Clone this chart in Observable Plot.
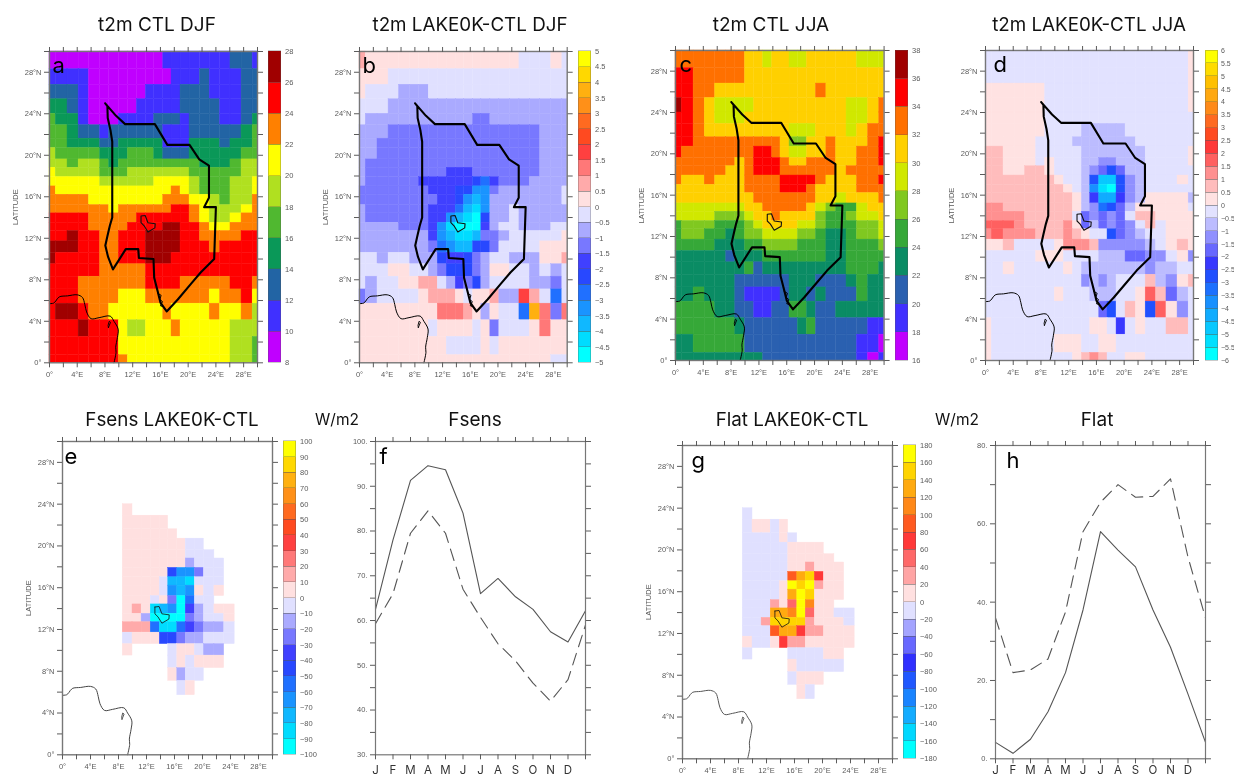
<!DOCTYPE html>
<html>
<head>
<meta charset="utf-8">
<script src="https://cdn.jsdelivr.net/npm/d3@7"></script>
<script src="https://cdn.jsdelivr.net/npm/@observablehq/plot@0.6"></script>
<style>
html,body{margin:0;padding:0;background:#fff;overflow:hidden}
#page{position:relative;width:1234px;height:780px;overflow:hidden;font-family:"Inter",sans-serif}
#page svg{filter:blur(.35px)}
.ttl{position:absolute;transform:translate(-50%,-50%);white-space:nowrap;color:#111;filter:blur(.25px)}
</style>
</head>
<body>
<div id="page"></div>
<script>
// Stretched model grid
const lonEdges = [0,.9,2.6,4.2,5.7,7.3,8.6,10,11.3,12.6,13.9,15.1,16.4,17.6,18.9,20.2,21.7,23.1,24.6,26.1,27.7,29.3,30];
const latEdges = [0,.74,2.5,4.1,5.7,7.07,8.3,9.5,10.6,11.7,12.7,13.5,14.4,15.2,16.2,17,17.9,18.8,19.6,20.7,21.6,22.9,24,25.4,26.8,28.3,30];

// Class index of each cell, north to south, west to east (base 36, "." = no data)
const t2mCtlDjf = [
"000000000000 1111111 22 1","1111 000000000 111 2 111 22","222 1 000000 1111 222 111 22","33 2 1 00000 11111 2222 11 22",
"4 33 1 000 1111 222 1 222 11 2 3","44 3 22 1 222222 111 22222 3 4","44 333 22 33333 111 333 2 33 4","5 4444 333 444 3 222 3333 3 44",
"55 4 55 4 3 444444444 333 4 55","6 5555 444 5555555 4 444 4 55","66666 555555 6666 5 444 55 6","7 666666666666 7 6 5 444 55 6",
"7777 66666666 777 6 6 5 4 55 7","777777 6 777777 88 7 6 55 5 6 7","8888 77777 888888 7 6 55 6 77","8888 7777 8888 99 88 7 66 77 7",
"88 9 88 77 888 9999 88 7777 88","999 88 77 888 9999 888 7 8888","9 8888 77 888 999 888888888","88888 77777 888888888888",
"888 7777777 8888 77777 88 7","888 7777 666 7777777 6 77 8 6","8 99 8 77 666666 7 6 666 7 66 7 5","888 9 888 6 55 666 7 66666 555",
"8888888 666666666666 55 4","8888888 7 66666666666 55 4"];
const t2mDiffDjf = [
"b aaaaaaaaaaaaaaaa 999 a 9","aaa 9999999999999999999","a 999 888 999999999999999","999 8888888888888888888",
"9 88888888888 77 88888888","888 7777777777777777 888","88 77777777777777777 888","88 77777777777777777 888",
"8 777777777777777777 888","8 77777777 666 7777777 888","8 77777 666666 5 4 6 777 8888","7777777 666 55 33 7 888888 9",
"777777 77 66 5 3 2 3 8888888 9","8 77777 7 666 4 2 1 3 88 9 8888 8","8 77777 7 66 3 2 1 0 5 88 9 88888","8888 777 6 3 1 000 6 8 99 888 99",
"8888888 6 3 2 1 1 2 77 8 99999 a","8888888 7 4 3 22 55 7 9999 aaa","99 8 99 8 8 8 5 6 6 5 7 8 99 88 8 aa b","999 aa 99 8 7 555 7 8 aa 99 8 9 8 9",
"9 8 99 aa bb 9 8 6 7 5 8 99 99 88 7 9","7 8 9999 a bbb a 9 a a b 88 d b 9 4 9","aaaaaaaa ccc b a 8 a 99 4 h c 7 c","aaaaaaa 9 aaaa 9 a 7 999 a c aa",
"aaaaaaaaa 9999 a 9 aaaaaaa","aaaaaaaaaaaaaaaaaaaa 99"];
const t2mCtlJja = [
"8888888 77 6 77 66 77777 666","99 88888 777777777777777","99 88 77777777777 8 777777","a 9 8 7 6666 7777777777 66 7 8",
"99 8 7 666 77777777777 66 7 8","99 8 777777777 666 777 6 7 88","99 888888888 7 55 77 8 777 8 9","9 8888888 99 8 7 66 77 8 77 88 9",
"888888 7 8 999 8 77 888 77 88 9","88888 77 8 999 888888 7 88 88 9","8 77 8 777 8888 9999 8 7 77 88 9","7777777 8888 999 8 7777 888",
"77777777 8888888 77 6 777 8","6666666 77 88888 7 6 5 44 6 777","6666 555 6 77 8 7777 5 44 5 66 7","4 555 444 5 6 7777 66 5 44 4 55 6",
"4 55 44 3 4 55 6666 55 4 33 4 55 6","4444 333 44 5555 444 33 444 5","33333 2 333 4444444 33 444 4","3333333 4 2 333333333 444 3",
"333333 222222 333 222 3 4 33","33 4 333 2 1111 2 33 2 3 222 4 33","4444 33 22 11 22 44 3 22 33333","444444 3 222222 3 4 22222 11",
"33 44444 222222222222 11 0","333333333 2222222222 1 0 1"];
const t2mDiffJja = [
"bbbbbbbbbbbbbbbbbbbbb c","bbbbbbbbbbbbbbbbbbbbb c","cccccc bbbbbbbbbbbbbbb c","cccccc bbbbbbbbbbbbbbb c",
"cccccc bbbbbbbbbbbbbbbb","cccccc bbbb aaaaa bbbbbbb","ccccc bbbb aaaaaaa bbbbbb","dd ccc bbbbb aaaaaaa bbbb c",
"dd ccc b c bbb aa 99 aaa bbbb c","dd cc dd c bbb a 9 8 6 8 aa bbbbb","ddddddd c bb a 6 2 2 6 9 a bbb c b","dddddddd c b a 4 1 0 6 9 a bbbbb",
"ddddddddd c a 7 3 3 7 9 a cccc a","ee ddddddd c a 9 5 6 8 a ccccc b","eeee ddddd b 8 9 8 9 8 b dd cccc","fff e dddd e c 8 a 8 9 8 9 b d b ccc",
"e f eee ddd e d c bb 6 8 9 a b b ccc","cc d bbbb c eee d 99999 a b c d c","bbbbb ccc bbbb aaa 88 99 b c 9","bb c bbbbb c b aaaaaaa 9 aa bb",
"bbbbbbbbbb 9 a 9 a bbb d a 9 c d","bbbbbbb c bbb aaa bb c f d 8 a b","bbbbbbbbbbbb 8 6 b d c 6 f c 9 b","c bbbbbbbbbb cc b 7 b c bb dd b",
"c bbbbbb ccc bb cc bbbbbbbb","c bbbbbbbb c d e d bb cc bbbbb"];
const fsensDiff = [
"","","","",
"...... a","...... aaaaa","...... aaaaaa","...... aaaaaaa 99",
"...... aaaaaaa 999","...... aaaaaaa 8 999","...... aaaaa 5 3 3 7 99","...... aaaa 9 2 2 1 9 9 9",
"...... aaaa 9 3 2 3 a 9 a","...... aaa 9 a 7 0 4 9 9","...... a b a 1 2 3 0 6 8 9 a a","...... a a 8 0 0 0 0 7 8 9 9 a",
"...... b b b 4 1 1 4 6 7 8 8 9","...... 9 a a a 5 5 7 8 8 9 9 9","...... a .... 9 a a 9 8 8","........... 9 a 9 a a a",
"........... a 8 9 9","............ 9 a","","","",""];
const flatDiff = [
"","","","",
"...... 8","...... 8 99 8 9","...... 8888 9 8","...... 88888 9999",
"...... 88888 99999","...... 88888 99 a 999","...... 88888 d f g c 99","...... 8888 9 h g h a 99",
"...... 8888 9 f h g 999","...... 888 a 9 b h e 99","...... 888 ff e h b 99 88","...... 88 a gggg a 999 8",
"...... 888 d ff c aa 999","...... 9 88 9 c aa 99999","...... 8 .... 8888 99","........... 9 88888",
"........... 8 999","............ 9 8","","","",""];

// Colour classes
const paletteA = ["#c000ff","#4030ff","#2264a4","#0a9858","#50b830","#b0e020","#ffff00","#ff8000","#ff0000","#a00000"];
const paletteC = ["#c000ff","#4030ff","#2a60b0","#0a8c64","#36a838","#80c820","#d0e800","#ffd000","#ff7000","#ff0000","#a00000"];
const palette20 = ["#00ffff","#00dcff","#10b8ff","#1a94ff","#2070ff","#2848ff","#4040ff","#7878ff","#aaaaff","#e0e0ff","#ffe0e0","#ffaaaa","#ff7878","#ff4040","#ff4a20","#ff6a20","#ff9018","#ffb010","#ffd800","#ffff00"];
const palette24 = ["#00ffff","#00e0ff","#08c8ff","#10acff","#1890ff","#1c70ff","#2050ff","#3838ff","#6868ff","#9090ff","#bcbcff","#e2e2ff","#ffe2e2","#ffbcbc","#ff9090","#ff6060","#ff3838","#ff4a20","#ff6a20","#ff8a18","#ffa810","#ffc000","#ffdc00","#ffff00"];
const palette18 = ["#00ffff","#00d8ff","#14acff","#1a84ff","#2058ff","#3030ff","#6868ff","#a4a4ff","#e0e0ff","#ffe0e0","#ffa4a4","#ff6868","#ff3838","#ff5a20","#ff8818","#ffaa10","#ffd400","#ffff00"];

// Map outlines, [lon, lat]
const basin = [[8.03,25],[8.35,24.75],[8.4,23.6],[8.8,22.4],[9.05,21.3],[9.05,14],[8.7,13.2],[8.35,12.2],[8.05,11.3],[8.45,10.2],[9.15,9],[11,10.95],[12.8,10.95],[12.9,10.1],[15,10],[15.1,8.2],[15.6,6.9],[16,5.8],[16.9,4.95],[18.5,6.1],[20.4,7.6],[21.8,8.7],[23.75,10],[24,15],[22.3,15],[23,15.9],[23,19],[21.6,19.6],[20.2,21],[17,21],[15.2,23],[10.9,23],[9.6,23.8],[8.03,25]];
const delta = [[15.6,6.7],[16.1,6.5],[15.9,6.1],[16.3,5.9],[16,5.5],[16.4,5.4]];
const lake = [[13.2,14.15],[13.8,14.2],[14.2,13.5],[15.25,13.4],[15.2,13],[14.2,12.6],[13.65,13.2],[13.2,13.5],[13.2,14.15]];
const coast = [[0,5.7],[.6,5.75],[.9,5.95],[1.4,6.35],[2.6,6.45],[4,6.55],[4.75,6.3],[5.1,5.6],[5.35,4.9],[6,4.25],[7.15,4.35],[8.75,4.5],[9.3,4],[9.9,3.25],[9.8,2.45],[9.55,1.5],[9.6,1],[9.3,0]];
const island = [[8.5,3.4],[8.8,3.9],[8.6,4],[8.45,3.6],[8.5,3.4]];

// Seasonal cycles
const months = ["J","F","M","A","M","J","J","A","S","O","N","D"];
const fsensSolid  = [62.5,78,91.3,94.6,93.7,84,66,69.4,65.3,62.5,57.5,55.2,62.2];
const fsensDashed = [59.3,66,79.5,84.5,79.5,67,60.7,54.8,51,46,42,46.8,59];
const flatSolid   = [4.2,1.4,5,12,22,38,58,53.3,49,38,28.5,16.5,4.2];
const flatDashed  = [36,22,22.7,25.5,37.5,58,65.5,70,66.8,67,71.5,51.5,36];

const page = document.getElementById("page");
const AX = "#5a5a5a";
const SANS = '"Liberation Sans",sans-serif';
const norm = s => s.replace(/ /g,"").padEnd(22,".");

function place(left, top, size = 7.5) {
  return {position:"absolute", left:left+"px", top:top+"px", background:"transparent", maxWidth:"none", overflow:"visible",
          fontFamily:SANS, fontSize:size+"px", color:AX};
}

function mapPanel(c) {
  const cells = [];
  c.rows.map(norm).forEach((row, r) => [...row].forEach((ch, i) => {
    if (ch === ".") return;
    const k = parseInt(ch, 36), j = latEdges.length - 2 - r;
    cells.push({x1:lonEdges[i], x2:lonEdges[i+1], y1:latEdges[j], y2:latEdges[j+1], v:c.min + (k + .5) * c.step});
  }));
  const thresholds = c.palette.slice(1).map((_, i) => c.min + (i + 1) * c.step);
  const L = 48, R = 12, T = 12, B = 22;
  const ticks = d3.range(0, 31, 2);
  const ln = Plot.line;
  const marks = [
    Plot.rect(cells, {x1:"x1", x2:"x2", y1:"y1", y2:"y2", fill:"v", stroke:"v", strokeWidth:.4}),
    ln(coast, {x:"0", y:"1", stroke:c.coastColor, strokeWidth:1, curve:"catmull-rom"}),
    ln(island, {x:"0", y:"1", stroke:c.coastColor, strokeWidth:.9}),
    ln(lake, {x:"0", y:"1", stroke:"#111", strokeWidth:c.basin ? 1.1 : .8})
  ];
  if (c.basin) marks.push(
    ln(basin, {x:"0", y:"1", stroke:"#000", strokeWidth:2.1, strokeLinejoin:"round"}),
    ln(delta, {x:"0", y:"1", stroke:"#000", strokeWidth:1})
  );
  marks.push(
    Plot.frame({stroke:"#777", strokeWidth:1.4}),
    Plot.axisX({anchor:"bottom", ticks, tickSize:5, tickPadding:4, color:AX, label:null, tickFormat:d => d % 4 ? "" : d ? d + "°E" : "0°"}),
    Plot.axisX({anchor:"top", ticks, tickSize:5, color:AX, label:null, tickFormat:() => ""}),
    Plot.axisY({anchor:"left", ticks, tickSize:5, tickPadding:3, color:AX, label:"LATITUDE", labelAnchor:"center", labelArrow:"none", labelOffset:37, tickFormat:d => d % 4 ? "" : d ? d + "°N" : "0°"}),
    Plot.axisY({anchor:"right", ticks, tickSize:5, color:AX, label:null, tickFormat:() => ""}),
    Plot.text([c.letter], {frameAnchor:"top-left", dx:c.lx, dy:c.ly, lineAnchor:"middle", textAnchor:"start", fontSize:22, fontFamily:"Inter", fill:"#000", text:d => d})
  );
  page.appendChild(Plot.plot({
    width:c.x1 - c.x0 + L + R, height:c.y1 - c.y0 + T + B,
    marginLeft:L, marginRight:R, marginTop:T, marginBottom:B,
    x:{domain:[0,30]}, y:{domain:[0,30]},
    color:{type:"threshold", domain:thresholds, range:c.palette},
    style:place(c.x0 - L, c.y0 - T), marks
  }));
  // colour bar
  const bands = c.palette.map((_, i) => ({y1:c.min + i * c.step, y2:c.min + (i + 1) * c.step, v:c.min + (i + .5) * c.step}));
  const bw = 12.5, bL = 2, bR = c.barPad === 3 ? 17 : 42;
  const vals = d3.range(c.palette.length + 1).map(i => c.min + i * c.step);
  page.appendChild(Plot.plot({
    width:bw + bL + bR, height:c.y1 - c.y0 + T + B,
    marginLeft:bL, marginRight:bR, marginTop:T, marginBottom:B,
    x:{domain:[0,1], axis:null}, y:{domain:[c.min, c.min + c.palette.length * c.step]},
    color:{type:"threshold", domain:thresholds, range:c.palette},
    style:place(c.bar - bL, c.y0 - T, c.barFont || 7.5),
    marks:[
      Plot.rect(bands, {x1:0, x2:1, y1:"y1", y2:"y2", fill:"v", stroke:"#555", strokeOpacity:.45, strokeWidth:.7, shapeRendering:"crispEdges"}),
      Plot.axisY({anchor:"right", ticks:vals, tickSize:0, tickPadding:c.barPad || 4, color:AX, label:null, tickFormat:d => String(+d.toFixed(2)).replace("-", "−")})
    ]
  }));
}

function linePanel(c) {
  const L = 40, R = 12, T = 12, B = 21;
  const xs = d3.range(13);
  const rows = k => c[k].map((v, i) => ({m:i, v}));
  const yt = d3.range(c.ymin, c.ymax + .1, c.minor);
  page.appendChild(Plot.plot({
    width:c.x1 - c.x0 + L + R, height:c.y1 - c.y0 + T + B,
    marginLeft:L, marginRight:R, marginTop:T, marginBottom:B,
    x:{domain:[0,12]}, y:{domain:[c.ymin, c.ymax]},
    style:place(c.x0 - L, c.y0 - T),
    marks:[
      Plot.line(rows("solid"), {x:"m", y:"v", stroke:"#555", strokeWidth:1.1}),
      Plot.line(rows("dashed"), {x:"m", y:"v", stroke:"#555", strokeWidth:1.1, strokeDasharray:"12,7"}),
      Plot.frame({stroke:"#777", strokeWidth:1.2}),
      Plot.axisX({anchor:"bottom", ticks:xs, tickSize:5, tickPadding:c.monthPad, stroke:AX, fill:"#333", label:null, fontSize:11.5, fontFamily:"Inter", tickFormat:d => months[d] || ""}),
      Plot.axisX({anchor:"top", ticks:xs, tickSize:5, color:AX, label:null, tickFormat:() => ""}),
      Plot.axisY({anchor:"left", ticks:yt, tickSize:5, tickPadding:3, color:AX, label:null, tickFormat:d => d % c.major ? "" : d + "."}),
      Plot.axisY({anchor:"right", ticks:yt, tickSize:5, color:AX, label:null, tickFormat:() => ""}),
      Plot.text([c.letter], {frameAnchor:"top-left", dx:c.lx, dy:c.ly, lineAnchor:"middle", textAnchor:"start", fontSize:22, fontFamily:"Inter", fill:"#000", text:d => d})
    ]
  }));
}

mapPanel({rows:t2mCtlDjf,  palette:paletteA,  min:8,    step:2,  letter:"a", lx:3, ly:14, basin:true, coastColor:"#000", x0:48.7, x1:256.7, y0:50.7, y1:362, bar:267.7});
mapPanel({rows:t2mDiffDjf, palette:palette20, min:-5,   step:.5, letter:"b", lx:3, ly:14, basin:true, coastColor:"#000", x0:359,  x1:566.7, y0:50.7, y1:362, bar:578.3});
mapPanel({rows:t2mCtlJja,  palette:paletteC,  min:16,   step:2,  letter:"c", lx:4, ly:14, basin:true, coastColor:"#000", x0:674.7,x1:883.3, y0:50,   y1:360, bar:895});
mapPanel({rows:t2mDiffJja, palette:palette24, min:-6,   step:.5, letter:"d", lx:8, ly:14, basin:true, coastColor:"#000", x0:985.3,x1:1193.3,y0:50,   y1:360, bar:1205, barFont:7, barPad:3});
mapPanel({rows:fsensDiff,  palette:palette20, min:-100, step:10, letter:"e", lx:2, ly:15, basin:false,coastColor:"#444", x0:62,   x1:272,   y0:441,  y1:754.3,bar:283.3});
mapPanel({rows:flatDiff,   palette:palette18, min:-180, step:20, letter:"g", lx:9, ly:15, basin:false,coastColor:"#555", x0:682,  x1:892,   y0:445,  y1:758.3,bar:903.3});
linePanel({solid:fsensSolid, dashed:fsensDashed, ymin:30, ymax:100, minor:5,  major:10, monthPad:6, letter:"f", lx:4,  ly:15, x0:375, x1:585,  y0:441, y1:754.3});
linePanel({solid:flatSolid,  dashed:flatDashed,  ymin:0,  ymax:80,  minor:10, major:20, monthPad:2, letter:"h", lx:11, ly:15, x0:995, x1:1205, y0:445, y1:758.3});

const titles = [
  ["t2m CTL DJF",157,24,19],["t2m LAKE0K-CTL DJF",470,24,18.8],["t2m CTL JJA",771,24,19],["t2m LAKE0K-CTL JJA",1089,24,18.8],
  ["Fsens LAKE0K-CTL",172,419,18.8],["W/m2",337,419,15.5],["Fsens",475,419,19],["Flat LAKE0K-CTL",792,419,18.8],["W/m2",957,419,15.5],["Flat",1097,419,19]
];
titles.forEach(([t, x, y, s]) => {
  const d = document.createElement("div");
  d.className = "ttl"; d.textContent = t; d.style.left = x + "px"; d.style.top = y + "px"; d.style.fontSize = s + "px";
  page.appendChild(d);
});
</script>
</body>
</html>
